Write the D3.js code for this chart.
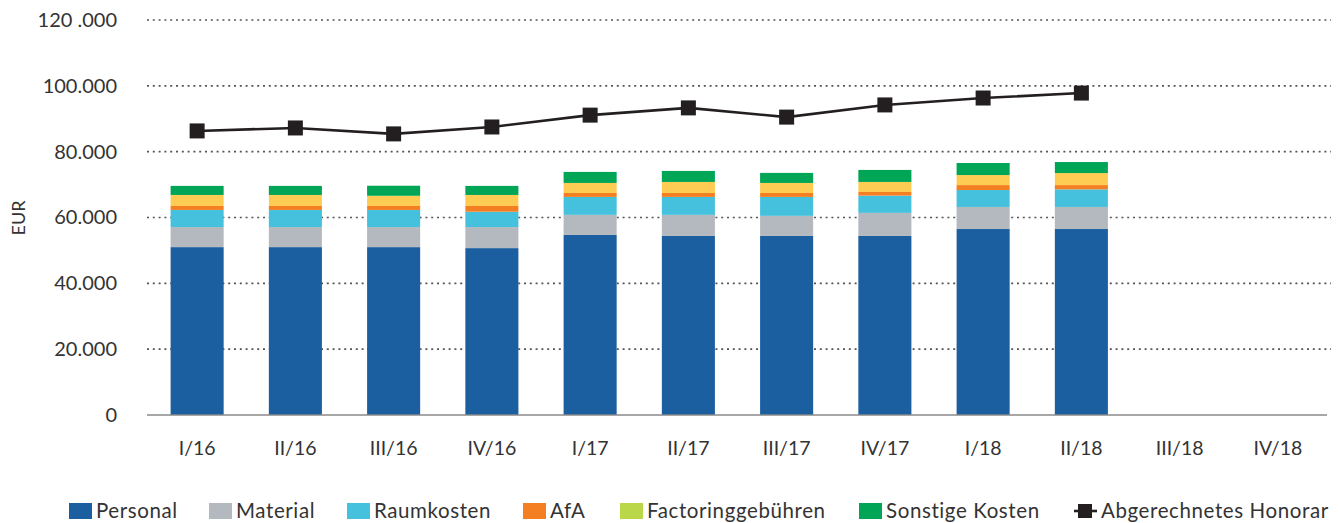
<!DOCTYPE html>
<html>
<head>
<meta charset="utf-8">
<script src="https://cdn.jsdelivr.net/npm/d3@7"></script>
<style>
  body { margin: 0; background: #fff; }
  svg text { font-family: Lato, "Open Sans", sans-serif; fill: #333; }
</style>
</head>
<body>
<div id="chart"></div>
<script>
// quarters
var quarters = ["I/16", "II/16", "III/16", "IV/16", "I/17", "II/17", "III/17", "IV/17", "I/18", "II/18", "III/18", "IV/18"];

// cost series (EUR), only first 10 quarters have values
var personal   = [51000, 51000, 51000, 50700, 54700, 54400, 54400, 54400, 56500, 56500];
var material   = [6100, 6100, 6100, 6400, 6100, 6400, 6100, 7000, 6700, 6700];
var raumkosten = [5200, 5200, 5200, 4650, 5450, 5450, 5750, 5250, 5150, 5350];
var afa        = [1200, 1200, 1200, 1750, 1200, 1200, 1200, 1100, 1500, 1300];
var factoring  = [3350, 3350, 3100, 3350, 3050, 3350, 3050, 3050, 3050, 3650];
var sonstige   = [2750, 2750, 3050, 2750, 3350, 3350, 3050, 3650, 3650, 3350];

// line
var honorar = [86300, 87200, 85400, 87500, 91100, 93300, 90500, 94200, 96300, 97800];

var yTicks = [0, 20000, 40000, 60000, 80000, 100000, 120000];
var yTickLabels = ["0", "20.000", "40.000", "60.000", "80.000", "100.000", "120 .000"];

var seriesNames = ["Personal", "Material", "Raumkosten", "AfA", "Factoringgebühren", "Sonstige Kosten"];
var seriesValues = [personal, material, raumkosten, afa, factoring, sonstige];
var barColors = ["#1b5fa0", "#b4b8bf", "#46c1dd", "#f47f22", "#fecc52", "#00a556"];
var legendColors = ["#1b5fa0", "#b4b8bf", "#46c1dd", "#f47f22", "#bad74a", "#00a556"];
var lineName = "Abgerechnetes Honorar";

var width = 1339, height = 523;

var svg = d3.select("#chart")
    .append("svg")
    .attr("width", width)
    .attr("height", height);

var x = d3.scaleBand()
    .domain(quarters)
    .range([148, 1327])
    .paddingInner(0.46)
    .paddingOuter(0.23);

var y = d3.scaleLinear()
    .domain([0, 120000])
    .range([415, 20]);

// gridlines (dotted)
svg.append("g")
    .selectAll("line")
    .data(yTicks.filter(d => d > 0))
    .enter()
    .append("line")
        .attr("x1", 147)
        .attr("x2", 1331)
        .attr("y1", d => y(d))
        .attr("y2", d => y(d))
        .attr("stroke", "#555")
        .attr("stroke-width", 1.6)
        .attr("stroke-dasharray", "2,3.8");

// y axis labels
var yAxis = svg.append("g")
    .attr("transform", "translate(117,0)")
    .call(d3.axisLeft(y).tickValues(yTicks).tickFormat((d, i) => yTickLabels[i]).tickSize(0).tickPadding(0));
yAxis.select(".domain").remove();
yAxis.selectAll("text")
    .attr("font-size", 20)
    .attr("fill", "#333")
    .style("font-family", "Lato, sans-serif");

svg.append("text")
    .attr("transform", "translate(25,218) rotate(-90)")
    .attr("text-anchor", "middle")
    .attr("font-size", 18)
    .text("EUR");

// stacked bars
var rows = quarters.slice(0, personal.length).map(function (q, i) {
    var row = { q: q };
    seriesNames.forEach((s, k) => { row[s] = seriesValues[k][i]; });
    return row;
});
var stack = d3.stack().keys(seriesNames)(rows);

svg.append("g")
    .selectAll("g")
    .data(stack)
    .enter()
    .append("g")
        .attr("fill", (d, i) => barColors[i])
    .selectAll("rect")
    .data(d => d)
    .enter()
    .append("rect")
        .attr("x", d => x(d.data.q))
        .attr("y", d => y(d[1]))
        .attr("width", x.bandwidth())
        .attr("height", d => y(d[0]) - y(d[1]));

// x axis
var xAxis = svg.append("g")
    .attr("transform", "translate(0,415)")
    .call(d3.axisBottom(x).tickSize(0).tickPadding(26));
xAxis.select(".domain")
    .attr("d", "M147,0H1327")
    .attr("stroke", "#8a8a8a")
    .attr("stroke-width", 1.5);
xAxis.selectAll("text")
    .attr("font-size", 19.5)
    .attr("fill", "#333")
    .style("font-family", "Lato, sans-serif");

// honorar line
var cx = (d, i) => x(quarters[i]) + x.bandwidth() / 2;
svg.append("path")
    .datum(honorar)
    .attr("fill", "none")
    .attr("stroke", "#231f20")
    .attr("stroke-width", 2.6)
    .attr("d", d3.line().x(cx).y(d => y(d)));

var m = 15;
svg.append("g")
    .selectAll("rect")
    .data(honorar)
    .enter()
    .append("rect")
        .attr("x", (d, i) => cx(d, i) - m / 2)
        .attr("y", d => y(d) - m / 2)
        .attr("width", m)
        .attr("height", m)
        .attr("fill", "#231f20");

// legend
var legendX = [69, 209, 347, 523, 620, 859];
var legend = svg.append("g").attr("transform", "translate(0,511)");
seriesNames.forEach(function (s, i) {
    legend.append("rect")
        .attr("x", legendX[i])
        .attr("y", -8)
        .attr("width", 23)
        .attr("height", 16)
        .attr("fill", legendColors[i]);
    legend.append("text")
        .attr("x", legendX[i] + 27)
        .attr("dy", "0.35em")
        .attr("font-size", 20.5)
        .attr("letter-spacing", 0.6)
        .text(s);
});
legend.append("line")
    .attr("x1", 1074).attr("x2", 1097)
    .attr("stroke", "#231f20").attr("stroke-width", 2.6);
legend.append("rect")
    .attr("x", 1078).attr("y", -7).attr("width", 14).attr("height", 14)
    .attr("fill", "#231f20");
legend.append("text")
    .attr("x", 1101)
    .attr("dy", "0.35em")
    .attr("font-size", 20.5)
    .attr("letter-spacing", 0.6)
    .text(lineName);
</script>
</body>
</html>
